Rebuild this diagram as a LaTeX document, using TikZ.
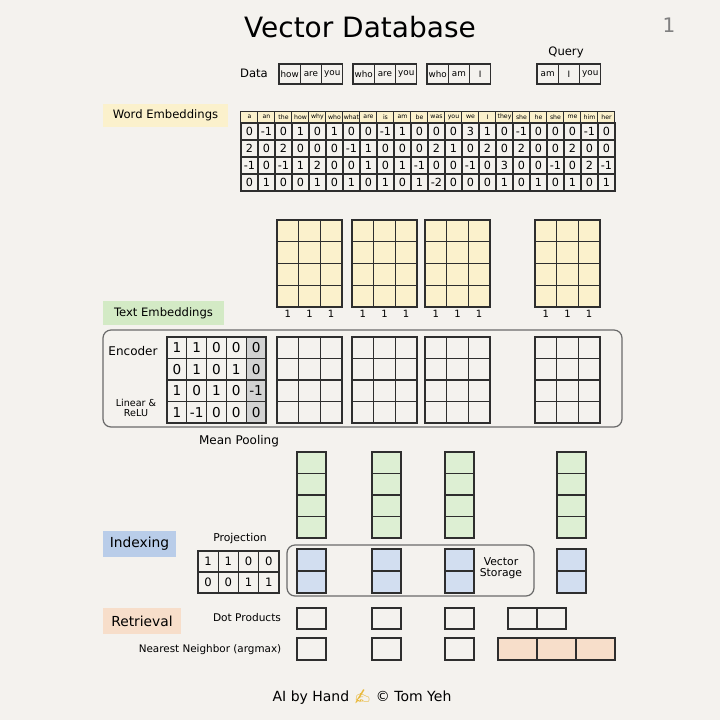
\documentclass[tikz,border=0pt]{standalone}
\usepackage{fontspec}
\setmainfont{DejaVu Sans}
\newfontfamily\emojifont{Noto Emoji}
\usetikzlibrary{calc}

\definecolor{paper}{HTML}{F4F2EE}
\definecolor{inkline}{HTML}{2E2E2E}
\definecolor{panelgray}{HTML}{6A6A6A}
\definecolor{wordyellow}{HTML}{FBF1CC}
\definecolor{textgreen}{HTML}{D3EAC5}
\definecolor{poolgreen}{HTML}{DDEFD3}
\definecolor{indexblue}{HTML}{B9CDE9}
\definecolor{storeblue}{HTML}{D2DEF0}
\definecolor{retrpeach}{HTML}{F7DECA}
\definecolor{biasgray}{HTML}{D2D2D2}
\definecolor{handyellow}{HTML}{E9B93C}

\newcommand{\fsz}[1]{\fontsize{#1}{#1}\selectfont}
\newcommand{\cellgrid}[7] % x, y (top left, px), columns, rows, cell width, cell height, fill
{
	% filled block
	\fill[#7] (#1,#2) rectangle ++({#3*#5},{#4*#6});
	% column lines
	\foreach \i in {0,...,#3}
		{\draw[gridline] ({#1+\i*#5},#2) -- ++(0,{#4*#6});}
	% row lines
	\foreach \j in {0,...,#4}
		{\draw[gridline] (#1,{#2+\j*#6}) -- ++({#3*#5},0);}
}

\begin{document}
\begin{tikzpicture}[x=0.5pt,y=-0.5pt,
	gridline/.style={draw=inkline,line width=0.6pt,line cap=rect},
	wordcell/.style={draw=inkline,line width=0.6pt,minimum width=10.65pt,minimum height=10pt,inner sep=0pt,font=\fsz{4.4}},
	headcell/.style={draw=inkline,line width=0.5pt,fill=wordyellow,minimum width=8.5pt,minimum height=6pt,inner sep=0pt,font=\fsz{3.1}},
	numcell/.style={draw=inkline,line width=0.6pt,minimum width=8.5pt,minimum height=8.5pt,inner sep=0pt,font=\fsz{5.6}},
	enccell/.style={draw=inkline,line width=0.6pt,minimum width=9.9pt,minimum height=10.75pt,inner sep=0pt,font=\fsz{6.8}},
	projcell/.style={draw=inkline,line width=0.6pt,minimum width=10.1pt,minimum height=10.5pt,inner sep=0pt,font=\fsz{5.8}},
	tagbox/.style={inner sep=0pt,font=\fsz{5.8}},
	caption/.style={inner sep=0pt,font=\fsz{5.4}},
	panel/.style={draw=panelgray,line width=0.6pt,rounded corners=4pt}]
	% page: 720 x 720 px, 1 px = 0.5pt
	\path[use as bounding box,fill=paper] (0,0) rectangle (720,720);

	% title
	\node[inner sep=0pt,font=\fsz{14}] (title) at (360,27) {Vector Database};
	\node[inner sep=0pt,font=\fsz{10},text=gray] (pagenum) at (669,25) {1};

	% data and query sentences
	\node[caption,font=\fsz{5.8}] (datalabel) at (254,73) {Data};
	\foreach \w [count=\i] in {how,are,you}
		\node[wordcell] (data1-\i) at ({279+(\i-0.5)*21.3},74) {\w};
	\foreach \w [count=\i] in {who,are,you}
		\node[wordcell] (data2-\i) at ({353+(\i-0.5)*21.3},74) {\w};
	\foreach \w [count=\i] in {who,am,I}
		\node[wordcell] (data3-\i) at ({427+(\i-0.5)*21.3},74) {\w};
	\node[caption,font=\fsz{5.8}] (querylabel) at (566,52) {Query};
	\foreach \w [count=\i] in {am,I,you}
		\node[wordcell] (query-\i) at ({537+(\i-0.5)*21.3},74) {\w};

	% word embeddings: vocabulary x 4
	\node[tagbox,fill=wordyellow,minimum width=62.5pt,minimum height=11.5pt] (wordemb) at (165.5,115.5) {Word Embeddings};
	\foreach \w [count=\c] in {a,an,the,how,why,who,what,are,is,am,be,was,you,we,I,they,she,he,she,me,him,her}
		\node[headcell] (head-\c) at ({241+(\c-0.5)*17},117) {\w};
	\foreach \row [count=\r] in {
		{0,-1,0,1,0,1,0,0,-1,1,0,0,0,3,1,0,-1,0,0,0,-1,0},
		{2,0,2,0,0,0,-1,1,0,0,0,2,1,0,2,0,2,0,0,2,0,0},
		{-1,0,-1,1,2,0,0,1,0,1,-1,0,0,-1,0,3,0,0,-1,0,2,-1},
		{0,1,0,0,1,0,1,0,1,0,1,-2,0,0,0,1,0,1,0,1,0,1}}
		\foreach \v [count=\c] in \row
			\node[numcell] (we-\r-\c) at ({241+(\c-0.5)*17},{123+(\r-0.5)*17}) {\v};

	% looked-up embeddings, one 3 x 4 block per sentence
	\foreach \gx [count=\g] in {277,352,425,535}
	{
		\cellgrid{\gx}{220}{3}{4}{21.67}{21.75}{wordyellow}
		\foreach \k in {1,2,3}
			\node[caption,font=\fsz{5}] (one-\g-\k) at ({\gx+(\k-0.5)*21.67},314) {1};
	}

	% text embeddings
	\node[tagbox,fill=textgreen,minimum width=60.5pt,minimum height=12pt] (textemb) at (163.5,313) {Text Embeddings};
	\draw[panel] (103,330) rectangle (622,427);
	\node[caption,font=\fsz{6}] (encoderlabel) at (133,351) {Encoder};
	\node[caption,font=\fsz{4.8},align=center] (linrelu) at (136,408) {Linear \&\\ReLU};
	\fill[biasgray] ({167+4*19.8},337) rectangle ++(19.8,86);
	\foreach \row [count=\r] in {{1,1,0,0,0},{0,1,0,1,0},{1,0,1,0,-1},{1,-1,0,0,0}}
		\foreach \v [count=\c] in \row
			\node[enccell] (enc-\r-\c) at ({167+(\c-0.5)*19.8},{337+(\r-0.5)*21.5}) {\v};
	\foreach \gx in {277,352,425,535}
		{\cellgrid{\gx}{337}{3}{4}{21.67}{21.5}{paper}}

	% mean pooling
	\node[caption,font=\fsz{6}] (meanpool) at (239,441) {Mean Pooling};
	\foreach \cx in {297,372,445,557}
		{\cellgrid{\cx}{452}{1}{4}{29}{21.5}{poolgreen}}

	% indexing
	\node[tagbox,fill=indexblue,minimum width=36.5pt,minimum height=13pt,font=\fsz{6.9}] (indexing) at (139.5,544) {Indexing};
	\node[caption] (projlabel) at (240,539) {Projection};
	\foreach \row [count=\r] in {{1,1,0,0},{0,0,1,1}}
		\foreach \v [count=\c] in \row
			\node[projcell] (proj-\r-\c) at ({198+(\c-0.5)*20.25},{551+(\r-0.5)*21}) {\v};
	\draw[panel] (287,545) rectangle (534,596);
	\node[caption,align=center] (storelabel) at (501,568) {Vector\\Storage};
	\foreach \cx in {297,372,445,557}
		{\cellgrid{\cx}{549}{1}{2}{29}{22}{storeblue}}

	% retrieval
	\node[tagbox,fill=retrpeach,minimum width=39pt,minimum height=13pt,font=\fsz{6.9}] (retrieval) at (142,621) {Retrieval};
	\node[caption,font=\fsz{5.3}] (dotlabel) at (247,618) {Dot Products};
	\foreach \cx in {297,372,445}
		{\cellgrid{\cx}{608}{1}{1}{29}{21}{paper}}
	\cellgrid{508}{608}{2}{1}{29}{21}{paper}
	\node[caption,font=\fsz{5.2}] (nnlabel) at (210,650) {Nearest Neighbor (argmax)};
	\foreach \cx in {297,372,445}
		{\cellgrid{\cx}{638}{1}{1}{29}{22}{paper}}
	\cellgrid{498}{638}{3}{1}{39}{22}{retrpeach}

	% footer
	\node[inner sep=0pt,font=\fsz{7}] (footer) at (362,697) {AI by Hand {\emojifont\color{handyellow}✍} © Tom Yeh};
\end{tikzpicture}
\end{document}
